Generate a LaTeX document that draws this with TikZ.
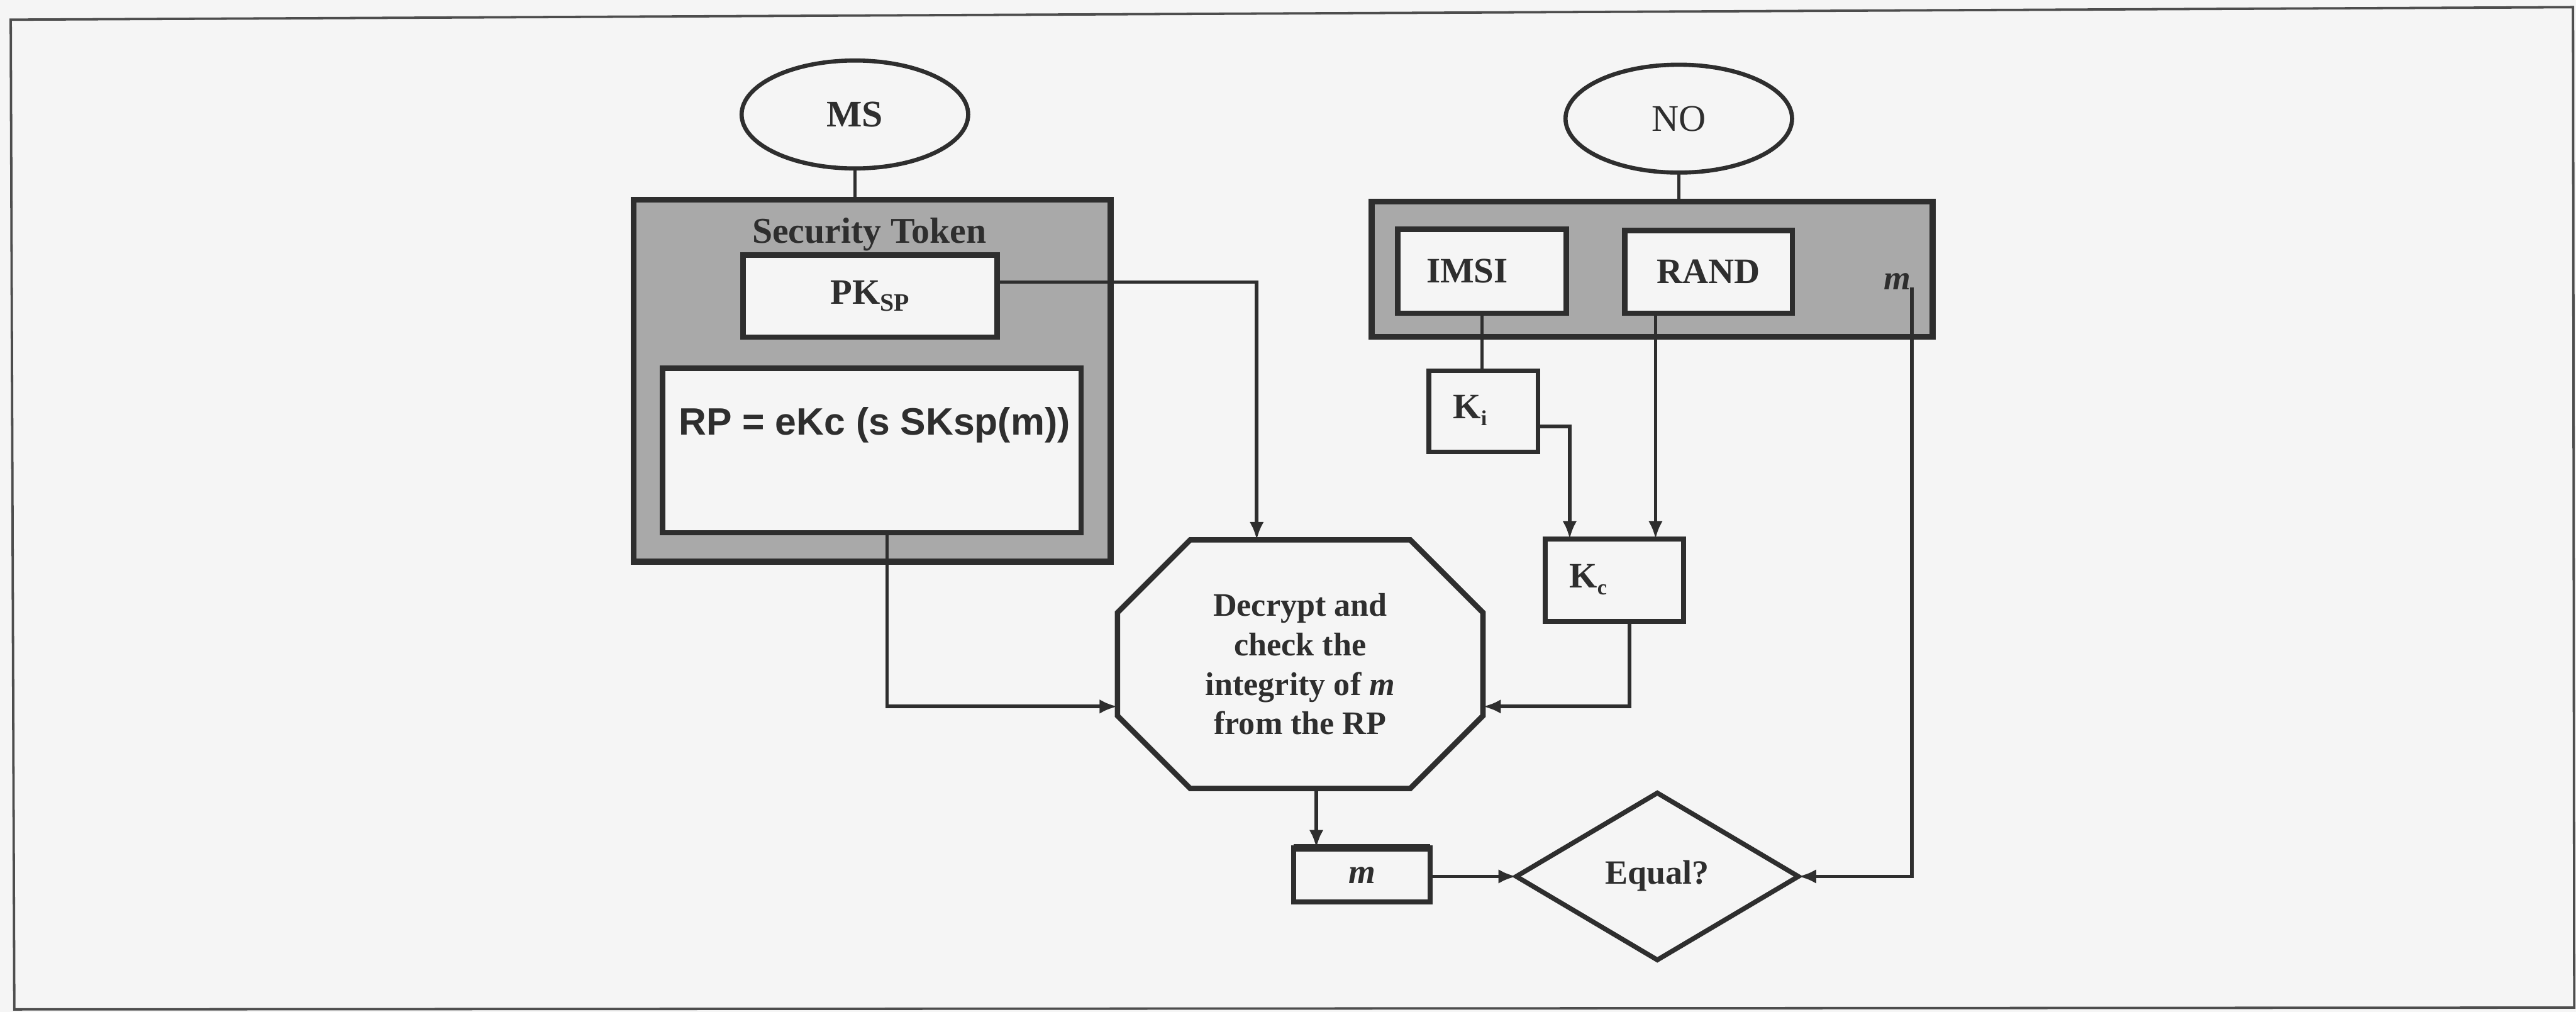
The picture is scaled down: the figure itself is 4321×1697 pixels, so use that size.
\documentclass[tikz,border=0pt]{standalone}
\usepackage{fontspec}
\setmainfont{Liberation Serif}
\newfontfamily\rpsans{Liberation Sans}
\usetikzlibrary{shapes.geometric,arrows.meta,calc}
\definecolor{ink}{HTML}{2E2E2E}
\definecolor{paper}{HTML}{F5F5F5}
\definecolor{tokengray}{HTML}{A9A9A9}
\newcommand{\mysub}[2][36]{\raisebox{-0.2em}{\fontsize{#1}{#1}\selectfont #2}}
\begin{document}
\begin{tikzpicture}[x=1pt,y=-1pt,
  every node/.style={inner sep=0pt, outer sep=0pt, text=ink},
  ent/.style={ellipse, draw=ink, line width=7pt, fill=paper, minimum width=380pt, minimum height=181pt, font=\fontsize{63}{63}\selectfont},
  grp/.style={rectangle, draw=ink, line width=10pt, fill=tokengray},
  itm/.style={rectangle, draw=ink, line width=9pt, fill=paper, font=\fontsize{60}{60}\selectfont\bfseries},
  key/.style={rectangle, draw=ink, line width=8pt, fill=paper},
  lab/.style={font=\fontsize{60}{60}\selectfont\bfseries},
  conn/.style={draw=ink, line width=6pt},
  arr/.style={conn, -{Latex[length=30pt,width=24pt]}},
  ]
\fill[paper] (0,0) rectangle (4321,1697);
\useasboundingbox (0,0) rectangle (4321,1697);
\draw[ink!85, line width=4pt] (18,33) -- (4316,12) -- (4318,1690) -- (24,1693) -- cycle;

% entities
\node[ent, font=\fontsize{63}{63}\selectfont\bfseries] (MS) at (1434,192) {MS};
\node[ent] (NO) at (2816,199) {NO};

% security token group
\node[grp, minimum width=800pt, minimum height=607pt] (ST) at (1463,638.5) {};
\node[anchor=base, font=\fontsize{61}{61}\selectfont\bfseries] (STlab) at (1458,408) {Security Token};
\node[itm, minimum width=426pt, minimum height=138pt] (PK) at (1459.5,496.5) {PK\mysub[42]{SP}};
\node[itm, minimum width=702pt, minimum height=276pt] (RP) at (1462.5,755.5) {};
\node[anchor=base, font=\fontsize{64}{64}\selectfont\rpsans\bfseries] (RPlab) at (1467,730) {RP = eKc (s SKsp(m))};

% network operator group
\node[grp, minimum width=941pt, minimum height=227pt] (NObox) at (2771.5,451.5) {};
\node[itm, minimum width=283pt, minimum height=141pt] (IMSI) at (2486,455) {\hspace*{-50pt}IMSI};
\node[itm, minimum width=281pt, minimum height=139pt] (RAND) at (2866,456) {RAND};
\node[font=\fontsize{58}{58}\selectfont\bfseries\itshape] (mlab) at (3183,472) {m};

% keys
\node[key, minimum width=183pt, minimum height=136pt] (Ki) at (2488.5,690) {};
\node[lab] (Kilab) at (2466,688) {K\mysub{i}};
\node[key, minimum width=232pt, minimum height=138pt] (Kc) at (2708,973) {};
\node[lab] (Kclab) at (2664,972) {K\mysub{c}};

% decrypt octagon
\node[minimum width=613pt, minimum height=417pt] (oct) at (2181,1114) {};
\draw[ink, line width=9pt, fill=paper]
  ($(oct.north west)+(122,0)$) -- ($(oct.north east)+(-122,0)$) --
  ($(oct.north east)+(0,122)$) -- ($(oct.south east)+(0,-122)$) --
  ($(oct.south east)+(-122,0)$) -- ($(oct.south west)+(122,0)$) --
  ($(oct.south west)+(0,-122)$) -- ($(oct.north west)+(0,122)$) -- cycle;
\node[align=center, font=\fontsize{55}{66}\selectfont\bfseries] (octlab) at (oct.center)
  {Decrypt and\\check the\\integrity of \textit{m}\\from the RP};

% result and comparison
\node[key, minimum width=229pt, minimum height=91pt, font=\fontsize{58}{58}\selectfont\bfseries\itshape] (mbox) at (2284.5,1467.5) {\raisebox{-12pt}{m}};
\draw[ink, line width=12pt] (mbox.north west) -- (mbox.north east);
\node[diamond, draw=ink, line width=8pt, fill=paper, minimum width=473pt, minimum height=280pt,
      font=\fontsize{57}{57}\selectfont\bfseries] (eq) at (2780,1470) {\raisebox{14pt}{Equal?}};

% connectors
\draw[conn] (MS.south) -- (MS.south |- ST.north);
\draw[conn] (NO.south) -- (NO.south |- NObox.north);
\draw[arr] ([yshift=23.5pt]PK.east) -| ([xshift=-73pt]oct.north);
\draw[arr] ([xshift=25.5pt]RP.south) |- ([yshift=-71pt]oct.west);
\draw[conn] (IMSI.south) -- (IMSI.south |- Ki.north);
\draw[arr] ([yshift=-25pt]Ki.east) -| ([xshift=-75pt]Kc.north);
\draw[arr] ([xshift=-89pt]RAND.south) -- ([xshift=-89pt]RAND.south |- Kc.north);
\draw[arr] ([xshift=25pt]Kc.south) |- ([yshift=-71pt]oct.east);
\draw[arr] ([xshift=27pt]oct.south) -- ([xshift=27pt]oct.south |- mbox.north);
\draw[arr] (mbox.east |- eq.west) -- (eq.west);
\coordinate (mtop) at (3207,482);
\draw[arr] (mtop) |- (eq.east);
\end{tikzpicture}
\end{document}
